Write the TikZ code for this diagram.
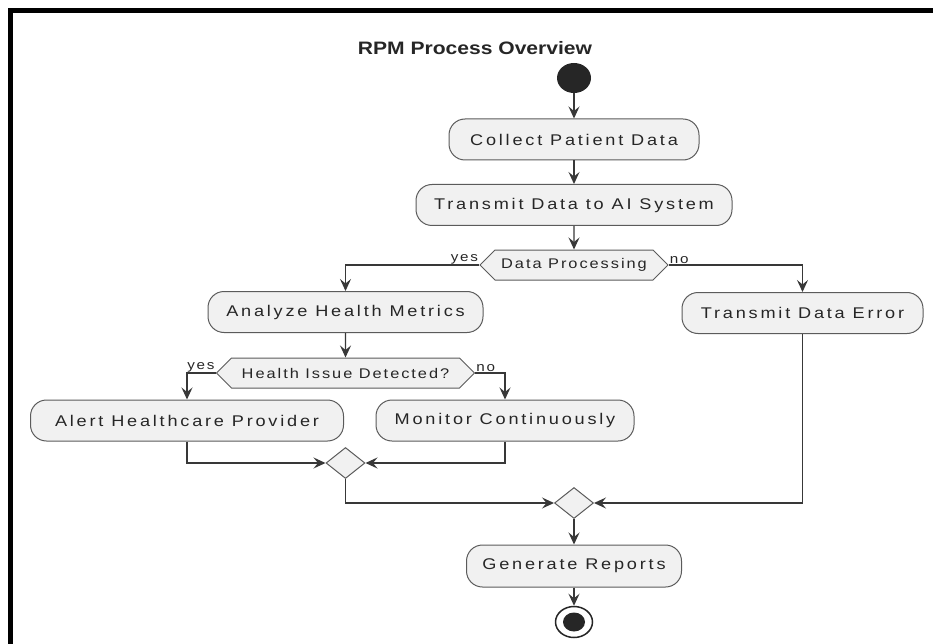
\documentclass[tikz,border=0pt]{standalone}
\usepackage{fontspec}
\setmainfont{Liberation Sans}[FakeStretch=1.17]
\newfontfamily\boxfont{Liberation Sans}[FakeStretch=1.17,LetterSpace=18]
\newfontfamily\smallfont{Liberation Sans}[FakeStretch=1.17,LetterSpace=14]
\usetikzlibrary{arrows.meta}
\usetikzlibrary{shapes.geometric}
\usetikzlibrary{shapes.symbols}
\definecolor{boxfill}{HTML}{F1F1F1}
\definecolor{boxline}{HTML}{5B5B5B}
\definecolor{flowline}{HTML}{383838}
\definecolor{inktext}{HTML}{262626}
\tikzset{action/.style={draw=boxline,fill=boxfill,line width=1pt,rounded corners=16pt,
   minimum height=41pt,inner xsep=0pt,text=inktext,font=\boxfont\fontsize{15.5}{18}\selectfont},
 decision/.style={signal,signal to=east and west,draw=boxline,fill=boxfill,line width=1pt,
   minimum height=30pt,inner sep=0pt,text=inktext,font=\smallfont\fontsize{14}{16}\selectfont},
 merge/.style={diamond,draw=boxline,fill=boxfill,line width=1pt,
   minimum width=39pt,minimum height=31pt,inner sep=0pt},
 branch/.style={font=\smallfont\fontsize{13}{15}\selectfont,text=inktext,inner sep=1pt},
 flow/.style={draw=flowline,line width=1.3pt,-{Stealth[length=12pt,width=11pt,inset=4.5pt]}},
 }

\begin{document}
\begin{tikzpicture}[x=1pt,y=-1pt]
    \useasboundingbox (0,0) rectangle (933,644);
    \draw[line width=5pt] (10.5,644) -- (10.5,10.5) -- (933,10.5);

    \node[font=\bfseries\fontsize{18}{21}\selectfont,text=inktext] (title) at (475,48.5) {RPM Process Overview};
    \node[ellipse,fill=inktext,minimum width=34pt,minimum height=30pt,inner sep=0pt] (start) at (574,78) {};

    \node[action,minimum width=250pt] (collect) at (574,139.5) {Collect Patient Data};
    \node[action,minimum width=316pt] (transmit) at (574,205) {Transmit Data to AI System};
    \node[decision,minimum width=188pt] (proc) at (574,265) {Data Processing};
    \node[branch,anchor=south east] (procyes) at (proc.west) {yes};
    \node[branch,anchor=south west] (procno) at (proc.east) {no};

    \node[action,minimum width=275pt] (analyze) at (345.5,312) {Analyze Health Metrics};
    \node[action,minimum width=241pt] (error) at (802.5,313) {Transmit Data Error};
    \node[decision,minimum width=258pt] (health) at (345.5,373) {Health Issue Detected?};
    \node[branch,anchor=south east] (healthyes) at (health.west) {yes};
    \node[branch,anchor=south west] (healthno) at (health.east) {no};

    \node[action,minimum width=313pt] (alert) at (187,420.5) {Alert Healthcare Provider};
    \node[action,minimum width=258pt] (monitor) at (505,420.5) {Monitor Continuously};
    \node[merge] (merge1) at (345.5,463) {};
    \node[merge] (merge2) at (574,503) {};

    \node[action,minimum width=215pt,minimum height=42pt] (report) at (574,566) {Generate Reports};
    \node[ellipse,draw=inktext,fill=white,line width=1.5pt,minimum width=37pt,minimum height=31pt,inner sep=0pt] (stop) at (574,622) {};
    \node[ellipse,fill=inktext,minimum width=22pt,minimum height=19pt,inner sep=0pt] (stopdot) at (stop) {};

    \draw[flow] (start) -- (collect);
    \draw[flow] (collect) -- (transmit);
    \draw[flow] (transmit) -- (proc);
    \draw[flow] (proc.west) -| (analyze.north);
    \draw[flow] (proc.east) -| (error.north);
    \draw[flow] (analyze) -- (health);
    \draw[flow] (health.west) -| (alert.north);
    \draw[flow] (health.east) -| (monitor.north);
    \draw[flow] (alert.south) |- (merge1.west);
    \draw[flow] (monitor.south) |- (merge1.east);
    \draw[flow] (merge1.south) |- (merge2.west);
    \draw[flow] (error.south) |- (merge2.east);
    \draw[flow] (merge2) -- (report);
    \draw[flow] (report) -- (stop);
\end{tikzpicture}
\end{document}
